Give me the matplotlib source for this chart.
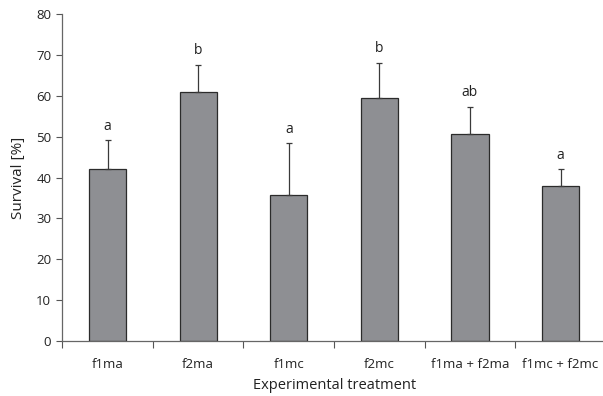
import matplotlib
matplotlib.use("Agg")
import matplotlib.pyplot as plt
import numpy as np

categories = ["f1ma", "f2ma", "f1mc", "f2mc", "f1ma + f2ma", "f1mc + f2mc"]
survival = [42.0, 61.0, 35.7, 59.6, 50.7, 37.9]
error_up = [7.2, 6.6, 12.7, 8.5, 6.7, 4.2]
letters = ["a", "b", "a", "b", "ab", "a"]
yticks = [0, 10, 20, 30, 40, 50, 60, 70, 80]

plt.rcParams['font.family'] = ['Open Sans', 'DejaVu Sans']

fig = plt.figure(figsize=(6.03, 3.96), dpi=100)
ax = fig.add_axes([62.3/603, 1 - 341/396, (605.9 - 62.3)/603, (341 - 14.3)/396])

x = np.arange(len(categories))
ax.bar(x, survival, width=0.41, color="#8e8f93", edgecolor="#2b2b2b", linewidth=0.9, zorder=2)
ax.errorbar(x, survival, yerr=[np.zeros(len(x)), error_up], fmt="none",
            ecolor="#3a3a3a", elinewidth=0.9, capsize=2, capthick=0.9, zorder=3)
for xi, v, e, t in zip(x, survival, error_up, letters):
    ax.text(xi, v + e + 1.6, t, ha="center", va="bottom", fontsize=10, color="#222222")

ax.set_xlim(-0.5, len(categories) - 0.5)
ax.set_ylim(0, 80)
ax.set_yticks(yticks)
ax.set_yticklabels([str(t) for t in yticks], fontsize=9.5, color="#222222")
ax.set_xticks(x)
ax.set_xticklabels(categories, fontsize=9.5, color="#222222")
ax.set_xticks(np.arange(len(categories) + 1) - 0.5, minor=True)
ax.tick_params(axis="x", which="major", length=0, pad=12)
ax.tick_params(axis="x", which="minor", length=5, width=0.8, color="#555555", direction="out")
ax.tick_params(axis="y", length=4, width=0.8, color="#555555", direction="out", pad=4)

for s in ["top", "right"]:
    ax.spines[s].set_visible(False)
for s in ["left", "bottom"]:
    ax.spines[s].set_color("#666666")
    ax.spines[s].set_linewidth(0.9)

ax.set_ylabel("Survival [%]", fontsize=11, color="#222222", labelpad=7)
ax.set_xlabel("Experimental treatment", fontsize=10.5, color="#222222", labelpad=5)

fig.savefig("out.png", dpi=100)
